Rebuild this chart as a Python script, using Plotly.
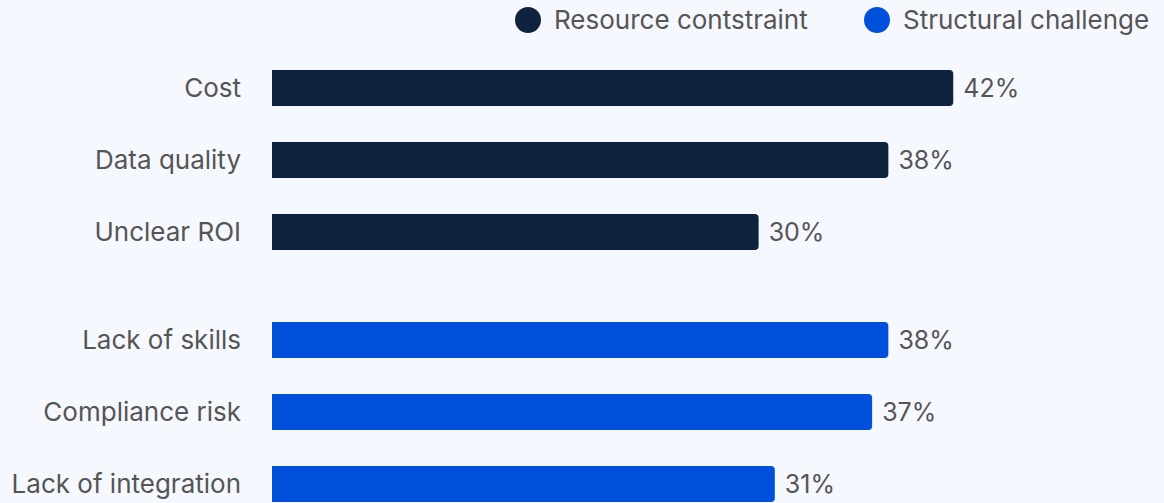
import plotly.graph_objects as go

# Barriers grouped by type, values in percent
resource_labels = ["Cost", "Data quality", "Unclear ROI"]
resource_values = [42, 38, 30]
structural_labels = ["Lack of skills", "Compliance risk", "Lack of integration"]
structural_values = [38, 37, 31]

group_names = ["Resource contstraint", "Structural challenge"]
group_colors = ["#0F233F", "#0050DC"]

BG = "#F5F8FE"
TEXT = "#555555"
FONT = "Inter"

# Row positions: groups separated by an extra half-row gap
res_pos = [i for i in range(len(resource_labels))]
str_pos = [len(resource_labels) + 0.5 + i for i in range(len(structural_labels))]

fig = go.Figure()
for labels, values, pos, color, name in [
    (resource_labels, resource_values, res_pos, group_colors[0], group_names[0]),
    (structural_labels, structural_values, str_pos, group_colors[1], group_names[1]),
]:
    fig.add_trace(go.Bar(
        x=values, y=pos, orientation="h", name=name,
        marker=dict(color=color, line=dict(width=0)),
        width=0.5,
        text=[f" {v}%" for v in values], textposition="outside",
        textfont=dict(family=FONT, size=25, color=TEXT),
        cliponaxis=False, showlegend=False,
    ))

# Legend drawn as circle markers with labels along the top
legend_items = [(0.0, group_names[0], group_colors[0]), (1.0, group_names[1], group_colors[1])]
W, H = 1164, 503
ml, mr, mt, mb = 272, 81, 34, 1
pw = W - ml - mr
legend_x_px = [528, 877]
for (k, name, color), cx in zip(legend_items, legend_x_px):
    xp = (cx - ml) / pw
    fig.add_shape(type="circle", xref="paper", yref="paper",
                  xsizemode="pixel", ysizemode="pixel",
                  xanchor=xp, yanchor=1, x0=-13, x1=13,
                  y0=mt - 20 - 13, y1=mt - 20 + 13,
                  fillcolor=color, line=dict(width=0))
    fig.add_annotation(xref="paper", yref="paper", x=xp, y=1,
                       xshift=24, yshift=mt - 19,
                       text=name, showarrow=False,
                       xanchor="left", yanchor="middle",
                       font=dict(family=FONT, size=26, color=TEXT))

fig.update_layout(
    width=W, height=H,
    margin=dict(l=ml, r=mr, t=mt, b=mb),
    paper_bgcolor=BG, plot_bgcolor=BG,
    barcornerradius=4,
    font=dict(family=FONT, size=26, color=TEXT),
    showlegend=False,
    xaxis=dict(range=[0, 50], visible=False, fixedrange=True),
    yaxis=dict(
        range=[str_pos[-1] + 0.25, -0.75],
        tickvals=res_pos + str_pos,
        ticktext=resource_labels + structural_labels,
        showgrid=False, zeroline=False, showline=False,
        ticks="", ticklabelstandoff=30,
        tickfont=dict(family=FONT, size=26, color=TEXT),
        fixedrange=True,
    ),
)

fig.write_html("out.html", config={"displayModeBar": False})
